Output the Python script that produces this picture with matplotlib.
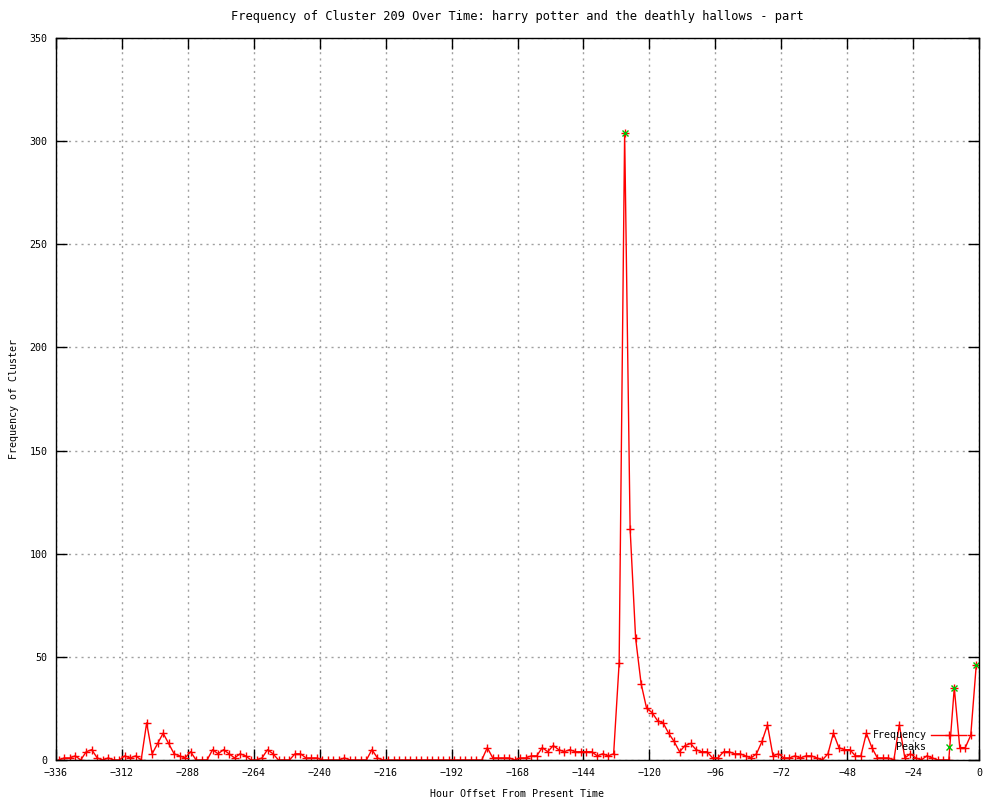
import numpy as np
import matplotlib
matplotlib.use('Agg')
import matplotlib.pyplot as plt
from matplotlib.lines import Line2D

# hourly bins, one every two hours
hours = np.arange(-335, 0, 2)
freq = [
    0, 1, 1, 2, 0, 4, 5, 1, 0, 1,
    0, 0, 2, 1, 2, 0, 18, 3, 8, 13,
    8, 3, 2, 1, 4, 0, 0, 0, 5, 3,
    5, 3, 1, 3, 2, 0, 0, 1, 5, 3,
    0, 0, 0, 3, 3, 1, 1, 1, 0, 0,
    0, 0, 1, 0, 0, 0, 0, 5, 1, 0,
    0, 0, 0, 0, 0, 0, 0, 0, 0, 0,
    0, 0, 0, 0, 0, 0, 0, 0, 6, 1,
    1, 1, 1, 0, 1, 1, 2, 2, 6, 4,
    7, 5, 4, 5, 4, 4, 4, 4, 2, 3,
    2, 3, 47, 304, 112, 59, 37, 25, 23, 19,
    18, 13, 9, 4, 7, 8, 5, 4, 4, 1,
    1, 4, 4, 3, 3, 2, 1, 3, 9, 17,
    2, 3, 1, 1, 2, 1, 2, 2, 1, 0,
    3, 13, 6, 5, 5, 2, 2, 13, 6, 1,
    1, 1, 0, 17, 1, 3, 1, 0, 2, 1,
    0, 0, 0, 35, 6, 6, 12, 46,
]
peak_idx = [103, 163, 167]

xticks = list(range(-336, 1, 24))
yticks = list(range(0, 351, 50))

plt.rcParams['font.family'] = 'DejaVu Sans Mono'
plt.rcParams['font.size'] = 7.2

fig = plt.figure(figsize=(10, 8), dpi=100)
ax = fig.add_axes([0.056, 0.05, 0.923, 0.9025])

ax.plot(hours, freq, color='red', lw=1, marker='+', ms=6, mew=1)
px = [hours[i] for i in peak_idx]
py = [freq[i] for i in peak_idx]
ax.plot(px, py, ls='none', marker='x', color='#00c000', ms=5, mew=1)

ax.set_xlim(-336, 0)
ax.set_ylim(0, 350)
ax.set_xticks(xticks)
ax.set_yticks(yticks)
ax.tick_params(direction='in', length=8, width=1, top=True, right=True, pad=6)
ax.grid(True, color='#a0a0a0', ls=(0, (1.5, 3)), lw=1)
for s in ax.spines.values():
    s.set_linewidth(1)

ax.set_title('Frequency of Cluster 209 Over Time: harry potter and the deathly hallows - part', pad=13)
ax.set_xlabel('Hour Offset From Present Time', labelpad=8)
ax.set_ylabel('Frequency of Cluster', labelpad=8)

handles = [Line2D([], [], color='red', lw=1, marker='+', ms=6),
           Line2D([], [], ls='none', color='#00c000', marker='x', ms=5)]
ax.legend(handles, ['Frequency', 'Peaks'], loc='lower right', bbox_to_anchor=(0.995, 0.0),
          frameon=False, markerfirst=False, handlelength=3.5, labelspacing=0.2,
          borderpad=0.3, handletextpad=0.5)

fig.savefig('out.png', dpi=100)
